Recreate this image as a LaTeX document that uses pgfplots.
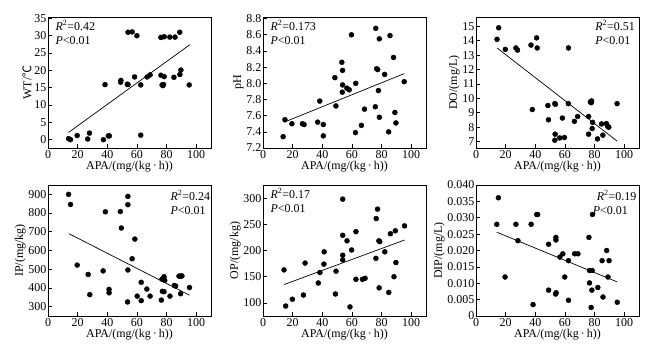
\documentclass[border=0pt]{standalone}
\usepackage{fontspec}
\setmainfont{Liberation Serif}
\newfontfamily\cjk{Noto Sans CJK SC}
\usepackage{pgfplots}
\pgfplotsset{compat=1.18}
\newcommand{\fs}{\fontsize{12}{14}\selectfont}
\pgfplotsset{
  myax/.style={
    scale only axis, width=163bp, height=131bp,
    anchor=north west,
    xmin=0, xmax=110, xtick={0,20,40,60,80,100},
    tick align=inside, tick pos=left,
    major tick length=4bp,
    axis line style={line width=0.8bp},
    every tick/.style={black, line width=0.6bp},
    tick label style={font=\fs},
    label style={font=\fs},
    /pgf/number format/assume math mode=true,
    xlabel={APA/(mg/(kg\,·\,h))},
    xlabel style={inner sep=0.5bp},
    ylabel style={inner sep=1bp},
    yticklabel style={inner xsep=1.5bp},
    xticklabel style={inner ysep=2bp},
  },
  dots/.style={only marks, mark=*, mark size=2.5bp, black},
  fitl/.style={black, line width=0.7bp, no marks},
}
\begin{document}
\begin{tikzpicture}
\useasboundingbox (0,0) rectangle (652bp,-349bp);
% Panel 1
\begin{axis}[myax, at={(48bp,-17bp)}, ymin=-2.4, ymax=35.4, ytick={0,5,10,15,20,25,30,35}, ylabel={WT/{\cjk ℃}}]
\addplot[dots] table {
13.9 0.3
15.2 0.0
19.7 1.2
26.8 0.2
28.0 1.9
37.4 0.0
40.7 1.1
41.4 1.1
38.5 15.9
49.0 16.6
49.2 17.1
53.5 16.0
54.0 15.9
54.0 31.0
56.8 31.1
58.4 18.1
60.0 30.0
62.6 15.8
62.6 1.3
66.9 18.1
68.9 18.7
76.2 18.6
76.2 29.5
77.0 15.8
77.5 15.6
78.0 15.9
78.4 18.2
78.4 29.7
82.2 29.6
85.0 18.0
85.7 29.6
88.9 31.0
89.0 18.8
89.7 20.1
95.3 15.8
};
\addplot[fitl] coordinates {(13.9,2.1) (95.7,27.4)};
\node[anchor=north west, align=left, inner sep=0pt, font=\fs] at (rel axis cs:0.045,0.975) {\textit{R}\textsuperscript{2}=0.42\\\textit{P}<0.01};
\end{axis}
% Panel 2
\begin{axis}[myax, at={(263bp,-17bp)}, ymin=7.2, ymax=8.82, ytick={7.2,7.4,7.6,7.8,8.0,8.2,8.4,8.6,8.8},
  yticklabel style={/pgf/number format/.cd, fixed, fixed zerofill, precision=1}, ylabel={pH}]
\addplot[dots] table {
13.6 7.34
14.8 7.55
19.5 7.50
26.6 7.50
27.7 7.49
36.9 7.52
38.3 7.78
40.7 7.49
40.7 7.35
48.5 8.07
49.2 7.72
53.2 8.26
53.7 8.16
53.7 7.98
53.5 7.89
56.6 7.94
58.2 7.92
59.7 8.60
62.4 7.39
62.6 8.00
66.4 7.48
68.5 7.68
76.1 8.68
75.8 7.71
76.7 8.18
77.4 8.17
77.9 7.91
78.5 8.55
78.5 7.58
82.1 8.11
84.8 7.40
85.7 8.59
88.1 8.32
89.0 7.64
89.7 7.51
95.3 8.02
};
\addplot[fitl] coordinates {(14.3,7.52) (95.3,8.12)};
\node[anchor=north west, align=left, inner sep=0pt, font=\fs] at (rel axis cs:0.045,0.975) {\textit{R}\textsuperscript{2}=0.173\\\textit{P}<0.01};
\end{axis}
% Panel 3
\begin{axis}[myax, at={(476bp,-17bp)}, ymin=6.55, ymax=15.65, ytick={7,8,9,10,11,12,13,14,15}, ylabel={DO/(mg/L)}]
\addplot[dots] table {
14.2 14.1
15.3 14.9
19.8 13.4
26.9 13.5
28.0 13.35
37.1 13.7
38.0 9.22
40.9 14.2
41.3 13.5
48.5 9.5
48.9 8.51
53.2 9.63
53.6 9.59
53.4 7.51
53.2 7.09
56.5 7.25
58.3 8.63
59.7 7.28
62.3 9.63
62.4 13.5
66.4 8.4
68.6 8.74
76.0 8.74
76.0 7.51
77.2 9.75
77.8 9.7
78.0 9.82
78.7 8.33
78.4 7.9
82.0 7.18
84.7 8.22
85.6 7.44
88.0 8.24
88.9 8.05
89.6 7.99
95.2 9.63
};
\addplot[fitl] coordinates {(14.2,13.5) (95.2,7.03)};
\node[anchor=north east, align=left, inner sep=0pt, font=\fs] at (rel axis cs:0.975,0.975) {\textit{R}\textsuperscript{2}=0.51\\\textit{P}<0.01};
\end{axis}
% Panel 4
\begin{axis}[myax, at={(48bp,-185bp)}, ymin=250, ymax=950, ytick={300,400,500,600,700,800,900}, ylabel={IP/(mg/kg)}]
\addplot[dots] table {
13.9 900
15.2 846
19.7 522
27.1 472
28.2 364
37.2 491
38.7 807
41.2 392
41.2 374
48.8 808
49.5 720
53.9 889
53.9 845
53.9 496
53.7 325
56.8 556
58.6 661
60.2 356
62.9 430
62.9 332
66.7 394
68.9 356
76.5 335
77.2 382
78.3 380
77.5 449
78.3 460
78.8 440
78.0 445
76.9 447
82.3 356
85.2 413
86.1 410
88.4 463
89.5 463
90.4 464
89.5 369
95.5 402
};
\addplot[fitl] coordinates {(14.1,690) (95.5,361)};
\node[anchor=north east, align=left, inner sep=0pt, font=\fs] at (rel axis cs:0.995,0.96) {\textit{R}\textsuperscript{2}=0.24\\\textit{P}<0.01};
\end{axis}
% Panel 5
\begin{axis}[myax, at={(263bp,-185bp)}, ymin=75, ymax=325, ytick={100,150,200,250,300}, ylabel={OP/(mg/kg)}]
\addplot[dots] table {
14.2 163
15.3 94
19.8 107
27.3 115
28.4 176
37.3 138
38.4 158
41.1 174
41.3 197.5
48.9 117
49.3 160.5
53.8 298
53.8 229
53.8 191
53.8 182
56.7 218.5
59.8 201
62.7 236
62.7 145
58.7 92.4
67.1 145
68.9 147
77.3 279
76.4 261
78.2 218.5
78.8 217
76.2 185
82.2 197.5
78.4 128.7
84.9 120
86.0 232
89.3 237.6
89.7 177
88.4 150
95.5 247
};
\addplot[fitl] coordinates {(14.2,135) (95.5,220)};
\node[anchor=north west, align=left, inner sep=0pt, font=\fs] at (rel axis cs:0.045,0.975) {\textit{R}\textsuperscript{2}=0.17\\\textit{P}<0.01};
\end{axis}
% Panel 6
\begin{axis}[myax, at={(476bp,-185bp)}, ymin=0, ymax=0.04, scaled y ticks=false,
  ytick={0,0.005,0.01,0.015,0.02,0.025,0.03,0.035,0.04},
  yticklabels={0,0.005,0.010,0.015,0.020,0.025,0.030,0.035,0.040}, ylabel={DIP/(mg/L)}]
\addplot[dots] table {
14.0 0.0280
15.1 0.0361
19.6 0.0119
26.9 0.0280
28.3 0.0230
37.2 0.0280
38.5 0.0035
41.0 0.0310
41.6 0.0310
49.0 0.0219
49.0 0.0079
53.9 0.0240
53.9 0.0232
53.7 0.0067
54.1 0.0071
56.6 0.0180
58.6 0.0190
59.9 0.0119
62.4 0.0169
62.4 0.0048
66.6 0.0190
68.8 0.0190
76.2 0.0240
76.6 0.0139
76.6 0.0101
78.2 0.0079
78.4 0.0139
78.6 0.0310
77.7 0.0026
82.2 0.0087
85.1 0.0169
85.7 0.0058
88.2 0.0200
89.8 0.0169
89.1 0.0119
95.3 0.0042
};
\addplot[fitl] coordinates {(14.0,0.0256) (95.3,0.0104)};
\node[anchor=north east, align=left, inner sep=0pt, font=\fs] at (rel axis cs:0.985,0.96) {\textit{R}\textsuperscript{2}=0.19\\\hspace*{-4bp}\textit{P}<0.01};
\end{axis}
\end{tikzpicture}
\end{document}
